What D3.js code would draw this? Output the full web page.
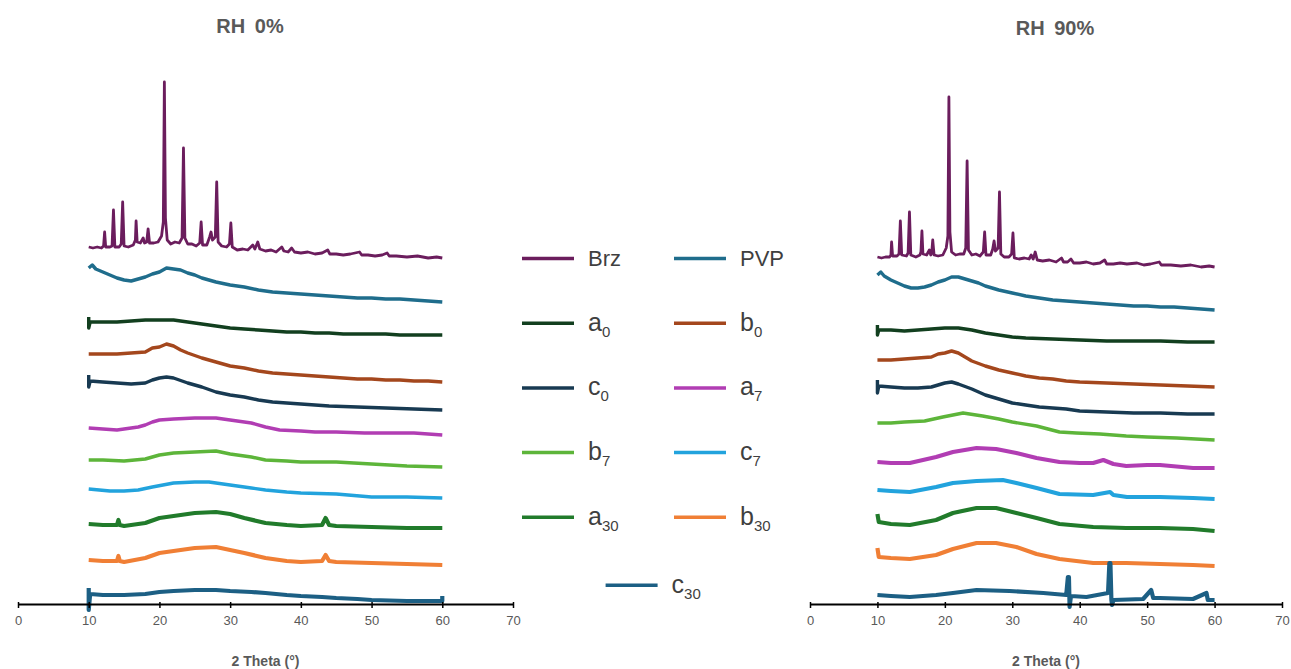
<!DOCTYPE html>
<html><head><meta charset="utf-8">
<script src="https://cdn.jsdelivr.net/npm/d3@7"></script>
<style>body{margin:0;background:#fff} svg{display:block;font-family:"Liberation Sans",Arial,sans-serif}</style>
</head><body><svg id="c" width="1291" height="669"></svg>
<script>
// ---- data: [2θ (°), stacked intensity (a.u.)] ----
const brzL = [[10,357],[10.6,356],[11.2,357],[11.8,356],[12.1,358],[12.25,372],[12.4,357],[13,357],[13.3,358],[13.5,394],[13.7,357],[14.3,357],[14.6,360],[14.8,402],[15.0,358],[15.6,357],[16.3,359],[16.6,364],[16.7,383],[16.85,362],[17.3,361],[17.7,366],[17.9,361],[18.2,362],[18.4,375],[18.6,361],[19.2,361],[19.8,362],[20.3,368],[20.55,382],[20.7,522],[20.85,386],[21.1,364],[21.6,360],[22.2,362],[22.8,361],[23.2,366],[23.4,456],[23.6,366],[24.0,360],[24.6,360],[25.2,358],[25.7,361],[25.9,382],[26.1,359],[26.7,359],[27.1,367],[27.3,372],[27.5,364],[27.9,367],[28.1,422],[28.3,362],[28.8,358],[29.5,357],[29.9,360],[30.1,381],[30.3,357],[31,354],[31.8,355],[32.5,354],[33.2,359],[33.5,355],[33.9,362],[34.2,355],[35,353],[35.8,354],[36.5,352],[37.3,357],[37.6,353],[38.2,352],[38.7,356],[39.1,352],[40,351],[41,352],[42,350],[43,351],[43.8,354],[44.1,350],[45,350],[46,349],[47,350],[48.3,352],[48.6,349],[49.5,349],[50.5,348],[51.5,349],[52.2,351],[52.5,348],[53.5,348],[55,347],[56.5,348],[58,346],[59.2,347],[60,346]];
const pvpL = [[10,336],[10.5,339],[11,335],[12,332],[13,329],[14,326],[15,324],[16,323],[17,325],[18,327],[19,330],[20,332],[21,336],[22,335],[23,334],[24,331],[25,329],[26,326],[27,324],[28,322],[30,319],[32,317],[34,314],[36,312],[38,311],[40,310],[42,309],[44,308],[46,307],[48,306],[50,306],[52,305],[54,305],[56,304],[58,303],[60,302]];
const a0L = [[10,287],[10,276],[10.2,282],[12,282],[14,282],[16,283],[18,284],[20,284],[22,284],[24,282],[26,280],[28,278],[30,276],[32,275],[34,274],[36,273],[38,272],[40,272],[42,271],[44,271],[46,270],[48,270],[50,270],[52,270],[54,269],[56,269],[58,269],[60,269]];
const b0L = [[10,250],[12,250],[14,250],[16,251],[18,252],[19,256],[20,257],[21,260],[22,258],[23,254],[24,251],[26,246],[28,242],[30,238],[32,236],[34,233],[36,231],[38,230],[40,229],[42,228],[44,227],[46,226],[48,225],[50,225],[52,224],[54,224],[56,223],[58,223],[60,222]];
const c0L = [[10,229],[10,217],[10.2,223],[12,222],[14,221],[16,220],[18,221],[19,224],[20,226],[21,227],[22,226],[24,221],[26,217],[28,212],[30,209],[32,207],[34,204],[36,202],[38,201],[40,200],[42,199],[44,198],[46,197.5],[48,197],[50,196.5],[52,196],[54,195.5],[56,195],[58,194.5],[60,194]];
const a7L = [[10,176],[12,175],[14,174],[16,176],[17,177],[18,179],[19,182],[20,184],[22,185],[25,186],[28,186],[30,184],[32,182],[33,181],[35,177],[37,174],[40,173],[42,172],[45,172],[49,171],[52,171],[56,171],[60,169]];
const b7L = [[10,144],[12,144],[15,143],[18,145],[20,149],[22,151],[25,152],[28,153],[30,150],[33,147],[35,144],[38,143],[40,142],[45,142],[50,140],[55,138],[60,137]];
const c7L = [[10,115],[13,113],[15,113],[17,114],[19,117],[22,121],[25,122],[27,122],[30,119],[33,116],[35,114],[38,112],[40,111],[45,110],[50,107],[55,107],[60,106]];
const a30L = [[10,80],[12,79],[14,79],[14.2,84],[14.4,79],[15,78],[18,81],[20,86],[22,88],[25,91],[28,92],[30,90],[32,86],[35,81],[38,79],[40,78],[43,79],[43.5,86],[44,79],[45,78],[50,77],[55,76],[60,76]];
const b30L = [[10,44],[12,43],[14,43],[14.2,48],[14.4,43],[15,42],[18,46],[20,51],[22,53],[25,56],[28,57],[30,54],[32,51],[35,46],[38,43],[40,42],[43,43],[43.5,49],[44,43],[45,42],[50,41],[55,40],[60,39]];
const c30L = [[10,16],[10,-6],[10.2,10],[12,9],[15,9],[18,10],[20,12],[22,13],[25,14],[28,14],[30,13],[33,12],[35,11],[38,9],[40,8],[43,7],[45,6],[48,5],[50,4],[55,3],[60,3],[60,8]];

const brzR = [[10,347],[10.6,346],[11.2,347],[11.8,347],[12.0,349],[12.1,362],[12.25,348],[12.9,348],[13.2,350],[13.4,383],[13.6,349],[14.3,348],[14.55,351],[14.75,392],[14.95,349],[15.7,347],[16.3,349],[16.45,352],[16.6,373],[16.75,350],[17.3,349],[17.7,354],[17.9,349],[18.05,351],[18.2,364],[18.4,349],[19,348],[19.7,349],[20.2,356],[20.45,368],[20.6,507],[20.75,372],[21.0,352],[21.6,349],[22.2,350],[22.8,350],[23.1,356],[23.3,443],[23.5,354],[24,349],[24.6,350],[25.2,348],[25.7,352],[25.9,372],[26.1,349],[26.8,349],[27.1,355],[27.3,363],[27.5,353],[27.9,356],[28.1,412],[28.3,350],[28.8,347],[29.5,347],[29.9,350],[30.1,371],[30.3,346],[31,345],[31.8,346],[32.5,345],[32.8,349],[33.1,345],[33.4,352],[33.7,344],[34.5,343],[35.5,344],[36.5,342],[37.3,346],[37.6,342],[38.2,342],[38.7,345],[39.1,341],[40,341],[41,342],[42,340],[43,341],[43.7,344],[44.0,340],[45,340],[46,341],[47,340],[48.5,341],[49.5,339],[50.5,340],[51.8,342],[52.1,339],[53.5,339],[55,338],[56.5,339],[58,337],[59.2,338],[60,337]];
const pvpR = [[10,329],[10.5,332],[11,328],[12,324],[13,321],[14,318],[15,316],[16,316],[17,317],[18,319],[19,322],[20,324],[21,327],[22,327],[23,325],[24,323],[25,321],[26,318],[27,316],[28,314],[30,311],[32,308],[34,306],[36,304],[38,303],[40,302],[42,301],[44,300],[46,299],[48,298],[50,298],[52,297],[54,297],[56,296],[58,295],[60,294]];
const a0R = [[10,279],[10,269],[10.2,274],[12,274],[14,273],[16,274],[18,275],[20,276],[22,276],[24,274],[26,271],[28,269],[30,267],[32,266],[34,265.5],[36,265],[38,264.5],[40,264],[44,263],[48,263],[52,263],[56,262],[60,262]];
const b0R = [[10,244],[12,244],[14,245],[16,246],[18,247],[19,250],[20,251],[21,253],[22,251],[23,247],[24,243],[26,238],[28,234],[30,231],[32,228],[34,226],[36,225],[38,223],[40,222],[44,221],[48,220],[52,219],[56,218],[60,217]];
const c0R = [[10,224],[10,211],[10.2,218],[12,217],[14,216],[16,216],[18,217],[19,219],[20,221],[21,222],[22,220],[24,215],[26,209],[28,205],[30,201],[32,199],[34,197],[36,196],[38,195],[40,193],[44,192],[48,191],[52,191],[56,190],[60,190]];
const b7R = [[10,181],[12,181],[14,182],[17,183],[19.7,187],[22.7,191],[25.6,188],[28,185],[30,182],[33.6,178],[37,172],[39.5,171],[43,170],[46.9,168],[50,167],[54.4,166],[60,164]];
const a7R = [[10,142],[12,141],[14.8,141],[18.7,147],[21.2,152],[24.7,156],[27.6,155],[30.6,151],[33.6,146],[37,142],[40,141],[42,141],[43.5,144],[45,140],[46.9,138],[50,139],[51.9,139],[56.8,136],[60,136]];
const c7R = [[10,114],[12,113],[14.8,112],[18.7,117],[21.2,121],[24.7,123],[28.6,124],[30.6,121],[33.6,116],[37,110],[42,109],[44.5,112],[45,109],[47,107],[51.9,107],[56.8,106],[60,105]];
const a30R = [[10,90],[10.2,82],[12,80],[14.8,79],[18.7,84],[21.2,91],[24.7,96],[27.6,96],[30.6,91],[33.6,86],[37,80],[42,77],[46.9,76],[51.9,76],[56.8,75],[60,73]];
const b30R = [[10,56],[10.2,47],[12,46],[14.8,45],[18.7,49],[21.2,55],[24.7,61],[27.6,61],[30.6,57],[33.6,50],[37,45],[42,41],[46.9,41],[51.9,40],[56.8,39],[60,38]];
const c30R = [[10,9],[12,8],[14.8,7],[18.7,9],[21.2,11],[24.7,14],[29.6,13],[34.6,11],[38.0,9],[38.25,27],[38.4,27],[38.5,-3],[38.7,8],[41,7],[44.2,11],[44.4,41],[44.55,41],[44.7,4],[44.8,-1],[45,4],[49.4,5],[50.6,14],[50.9,6],[51.9,6],[56.8,5],[58.8,11],[59,4],[60,4]];

const seriesKeys = ['Brz','PVP','a0','b0','c0','a7','b7','c7','a30','b30','c30'];
const seriesColors = ['#6b1d5d','#1f6d8c','#123f1f','#a4471d','#183a52','#b13db3','#5db53a','#22a3dd','#217b2b','#f07f35','#1c5f84'];
const xTicks = [0,10,20,30,40,50,60,70];
const panelTitles = ['RH 0%','RH 90%'];
const axisTitle = '2 Theta (°)';

const leftData = {Brz:brzL,PVP:pvpL,a0:a0L,b0:b0L,c0:c0L,a7:a7L,b7:b7L,c7:c7L,a30:a30L,b30:b30L,c30:c30L};
const rightData = {Brz:brzR,PVP:pvpR,a0:a0R,b0:b0R,c0:c0R,a7:a7R,b7:b7R,c7:c7R,a30:a30R,b30:b30R,c30:c30R};
const noisy = {a30:1,b30:1,c30:1};

// ---- drawing ----
const svg = d3.select('#c');
const color = d3.scaleOrdinal().domain(seriesKeys).range(seriesColors);
const y = d3.scaleLinear().domain([0,530]).range([604,74]);

const panels = [
  {title:panelTitles[0], tx:250, ty:33, x:d3.scaleLinear().domain([0,70]).range([18,513]), data:leftData},
  {title:panelTitles[1], tx:1055, ty:35, x:d3.scaleLinear().domain([0,70]).range([810,1282]), data:rightData}
];

panels.forEach((p,pi) => {
  const g = svg.append('g');
  const line = d3.line().x(d=>p.x(d[0])).y(d=>y(d[1]));
  seriesKeys.forEach(k => {
    const thick = noisy[k] || (pi===1 && (k==='a7'||k==='c7'));
    g.append('path').attr('d', line(p.data[k])).attr('fill','none')
      .attr('stroke', color(k))
      .attr('stroke-width', thick ? 4.2 : (k==='Brz' ? 2.8 : 3.4))
      .attr('stroke-linejoin','round');
  });
  const ax = g.append('g').attr('transform','translate(0,'+y(0)+')')
    .call(d3.axisBottom(p.x).tickValues(xTicks).tickSizeInner(4).tickSizeOuter(0).tickPadding(8));
  ax.select('.domain').attr('stroke','#000').attr('stroke-width',1.8);
  ax.selectAll('.tick line').attr('stroke','#000').attr('stroke-width',1.5).attr('y1',-2);
  ax.selectAll('.tick text').attr('fill','#595959').attr('font-size',13)
    .attr('font-family','"Liberation Sans",Arial,sans-serif');
  g.append('text').attr('x',p.tx).attr('y',p.ty).attr('text-anchor','middle')
    .attr('font-size',20).attr('font-weight','bold').attr('fill','#595959')
    .attr('word-spacing',4).text(p.title);
  const mid = (p.x.range()[0]+p.x.range()[1])/2;
  g.append('text').attr('x',mid).attr('y',666).attr('text-anchor','middle')
    .attr('font-size',14).attr('font-weight','bold').attr('fill','#595959').text(axisTitle);
});

// legend
const legendItems = [
  {k:'Brz',b:'Brz',s:'',col:0,row:0},{k:'PVP',b:'PVP',s:'',col:1,row:0},
  {k:'a0',b:'a',s:'0',col:0,row:1},{k:'b0',b:'b',s:'0',col:1,row:1},
  {k:'c0',b:'c',s:'0',col:0,row:2},{k:'a7',b:'a',s:'7',col:1,row:2},
  {k:'b7',b:'b',s:'7',col:0,row:3},{k:'c7',b:'c',s:'7',col:1,row:3},
  {k:'a30',b:'a',s:'30',col:0,row:4},{k:'b30',b:'b',s:'30',col:1,row:4},
  {k:'c30',b:'c',s:'30',col:0.55,row:5.05}
];
const colX = c => 522 + c*152;
const rowY = r => 258.5 + r*64.7;
const lg = svg.append('g');
legendItems.forEach(it => {
  const lx = colX(it.col), ly = rowY(it.row);
  lg.append('line').attr('x1',lx).attr('x2',lx+52).attr('y1',ly).attr('y2',ly)
    .attr('stroke',color(it.k)).attr('stroke-width',3.5);
  const t = lg.append('text').attr('x',lx+66).attr('y',ly+7.5).attr('fill','#3f3f3f');
  if (it.s) {
    t.append('tspan').attr('font-size',25).text(it.b);
    t.append('tspan').attr('font-size',15).attr('dy',6).text(it.s);
  } else {
    t.attr('font-size',22).text(it.b);
  }
});
</script></body></html>
